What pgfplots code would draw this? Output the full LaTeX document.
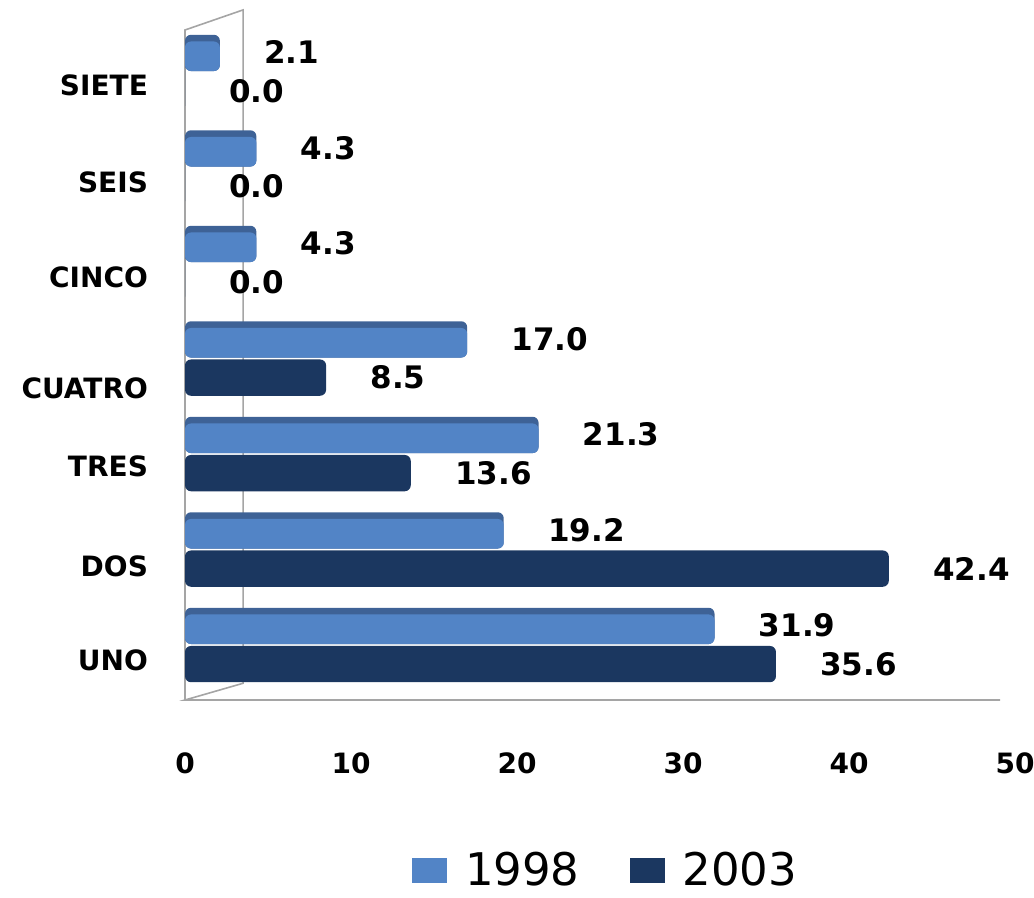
\documentclass[border=0pt]{standalone}
\usepackage{pgfplots}
\pgfplotsset{compat=1.18}
\usepackage{fontspec}
\setmainfont{DejaVu Sans}
\definecolor{lightTop}{RGB}{62,98,150}
\definecolor{lightF}{RGB}{82,132,198}
\definecolor{darkF}{RGB}{27,55,96}
\definecolor{frame}{RGB}{165,165,165}
\begin{document}
\begin{tikzpicture}
\begin{axis}[
 scale only axis, width=415pt, height=335pt,
 xmin=0, xmax=50, ymin=-0.576, ymax=6.44,
 xtick={0,10,20,30,40,50},
 ytick={-0.157,0.822,1.874,2.686,3.853,4.843,5.864},
 yticklabels={UNO,DOS,TRES,CUATRO,CINCO,SEIS,SIETE},
 axis line style={draw=none}, major tick length=0pt,
 ticklabel style={font=\bfseries\fontsize{14}{16}\selectfont},
 xticklabel style={yshift=-23pt},
 yticklabel style={xshift=-15pt},
 /pgf/number format/assume math mode=true,
 xbar,
 clip=false,
 point meta=x,
 every node near coord/.append style={anchor=west, inner sep=0pt, xshift=22pt, font=\bfseries\fontsize{15.5}{17}\selectfont, text=black},
 legend style={at={(0.508,-0.254)}, anchor=center, draw=none, fill=none, legend columns=2, font=\fontsize{22.5}{24}\selectfont,
   /tikz/every odd column/.append style={column sep=7pt},
   /tikz/every even column/.append style={column sep=23pt}},
 legend image code/.code={\path[#1,draw=none,rounded corners=0pt] (0pt,-6.25pt) rectangle (17.5pt,6.25pt);},
]
\coordinate (BL) at (rel axis cs:-0.2229,-0.2955);
\coordinate (TR) at (rel axis cs:1.0229,1.0448);
\draw[frame, line width=0.8pt] (rel axis cs:0,0) -- (rel axis cs:0,1) -- (rel axis cs:0.07,1.03) -- (rel axis cs:0.07,0.025) -- (rel axis cs:0,0) -- (rel axis cs:0.982,0);
% top face of 1998 bars
\addplot[xbar, forget plot, bar width=0.38, bar shift=0.2, fill=lightTop, draw=none, rounded corners=3pt]
 coordinates {(31.9,0) (19.2,1) (21.3,2) (17.0,3) (4.3,4) (4.3,5) (2.1,6)};
\addplot[xbar, bar width=0.31, bar shift=0.165, fill=lightF, draw=none, rounded corners=3pt,
 nodes near coords={\pgfmathprintnumber[fixed,fixed zerofill,precision=1]{\pgfplotspointmeta}},
 every node near coord/.append style={yshift=2pt}]
 coordinates {(31.9,0) (19.2,1) (21.3,2) (17.0,3) (4.3,4) (4.3,5) (2.1,6)};
\addplot[xbar, bar width=0.38, bar shift=-0.2, fill=darkF, draw=none, rounded corners=3pt,
 nodes near coords={\pgfmathprintnumber[fixed,fixed zerofill,precision=1]{\pgfplotspointmeta}}]
 coordinates {(35.6,0) (42.4,1) (13.6,2) (8.5,3) (0,4) (0,5) (0,6)};
\legend{1998,2003}
\end{axis}
\pgfresetboundingbox
\path[use as bounding box] (BL) rectangle (TR);
\end{tikzpicture}
\end{document}
